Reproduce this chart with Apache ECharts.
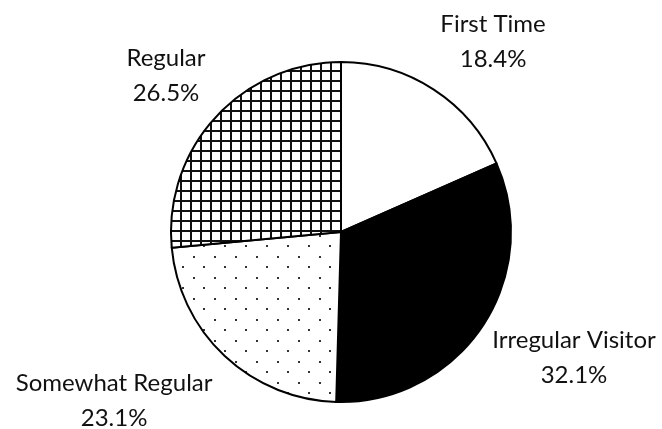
<!DOCTYPE html>
<html>
<head>
<meta charset="utf-8">
<script src="https://cdn.jsdelivr.net/npm/echarts@6/dist/echarts.min.js"></script>
<style>
  html, body { margin: 0; padding: 0; background: #fff; }
  #chart { width: 662px; height: 429px; }
</style>
</head>
<body>
<div id="chart"></div>
<script>
// Visitor frequency breakdown
const categories = ['First Time', 'Irregular Visitor', 'Somewhat Regular', 'Regular'];
const shares = [18.4, 32.1, 23.1, 26.5];

// Fill patterns drawn on small tiles
function gridTile() {
  const c = document.createElement('canvas');
  c.width = 10; c.height = 10;
  const g = c.getContext('2d');
  g.fillStyle = '#fff';
  g.fillRect(0, 0, 10, 10);
  g.fillStyle = '#111';
  g.fillRect(0, 0, 10, 2);
  g.fillRect(0, 0, 2, 10);
  return { image: c, repeat: 'repeat' };
}
function dotTile() {
  const c = document.createElement('canvas');
  c.width = 21; c.height = 21;
  const g = c.getContext('2d');
  g.fillStyle = '#fff';
  g.fillRect(0, 0, 21, 21);
  g.fillStyle = '#333';
  g.fillRect(4, 4, 2, 2);
  g.fillRect(14, 14, 2, 2);
  return { image: c, repeat: 'repeat' };
}
const fills = ['#ffffff', '#000000', dotTile(), gridTile()];

const CX = 341, CY = 232, R = 170;
// Label anchors around the pie: [angle clockwise from 12 o'clock in degrees, distance from centre]
const labelPolar = [[38.6, 243.7], [118.3, 264.6], [233.3, 283], [311.8, 234.8]];

const chart = echarts.init(document.getElementById('chart'), null, { renderer: 'canvas' });
chart.setOption({
  animation: false,
  backgroundColor: '#fff',
  series: [{
    type: 'pie',
    center: [CX, CY],
    radius: R,
    startAngle: 90,
    clockwise: true,
    avoidLabelOverlap: false,
    data: categories.map((name, i) => ({
      name: name,
      value: shares[i],
      itemStyle: { color: fills[i] }
    })),
    itemStyle: { borderColor: '#000', borderWidth: 2 },
    emphasis: { disabled: true },
    label: {
      show: true,
      position: 'outside',
      formatter: p => p.name + '\n' + p.value.toFixed(1) + '%',
      fontFamily: 'Lato, "Open Sans", sans-serif',
      fontSize: 24,
      lineHeight: 35,
      color: '#111',
      align: 'center'
    },
    labelLine: { show: false },
    labelLayout: function (p) {
      const a = labelPolar[p.dataIndex][0] * Math.PI / 180;
      const d = labelPolar[p.dataIndex][1];
      return {
        x: CX + d * Math.sin(a),
        y: CY - d * Math.cos(a),
        align: 'center',
        verticalAlign: 'middle'
      };
    }
  }]
});
</script>
</body>
</html>
